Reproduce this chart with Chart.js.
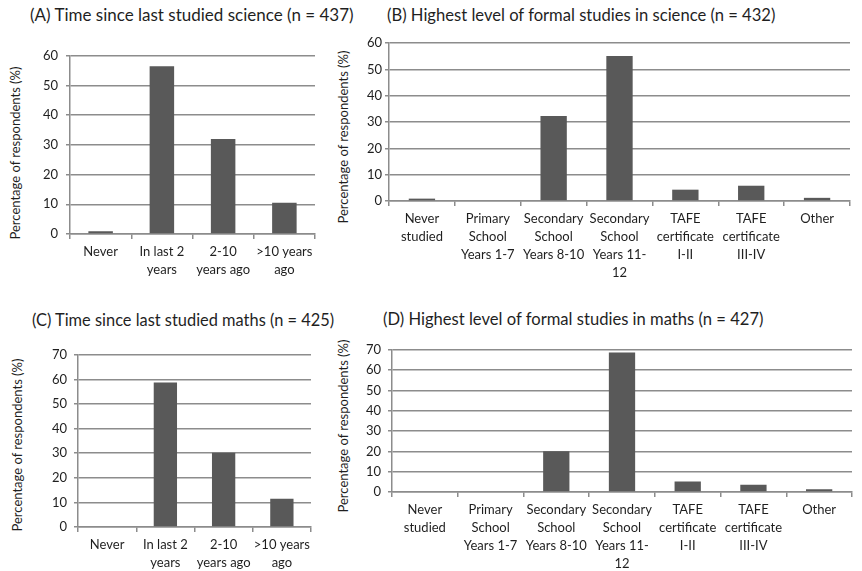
<!DOCTYPE html>
<html>
<head>
<meta charset="utf-8">
<script src="https://cdn.jsdelivr.net/npm/chart.js@4"></script>
<style>
  body { margin: 0; background: #ffffff; }
  #page { position: relative; width: 862px; height: 571px; overflow: hidden; font-family: Lato, "Open Sans", sans-serif; color: #1f1f1f; }
  .panel { position: absolute; }
  .title { position: absolute; font-size: 17px; white-space: nowrap; line-height: 20px; }
  .ytitle { position: absolute; font-size: 13px; white-space: nowrap; transform: translate(-50%, -50%) rotate(-90deg); }
</style>
</head>
<body>
<div id="page">
  <div class="title" style="left:30px;top:5px;">(A) Time since last studied science (n = 437)</div>
  <div class="title" style="left:387px;top:5px;font-size:16.6px;">(B) Highest level of formal studies in science (n = 432)</div>
  <div class="title" style="left:32px;top:310px;font-size:16.4px;">(C) Time since last studied maths (n = 425)</div>
  <div class="title" style="left:383px;top:309px;font-size:16.6px;">(D) Highest level of formal studies in maths (n = 427)</div>

  <div class="ytitle" style="left:15px;top:153px;">Percentage of respondents (%)</div>
  <div class="ytitle" style="left:343px;top:137px;">Percentage of respondents (%)</div>
  <div class="ytitle" style="left:17px;top:445px;">Percentage of respondents (%)</div>
  <div class="ytitle" style="left:343px;top:426px;">Percentage of respondents (%)</div>

  <div class="panel" style="left:0px;top:40px;width:325px;height:250px;"><canvas id="chartA"></canvas></div>
  <div class="panel" style="left:330px;top:30px;width:532px;height:260px;"><canvas id="chartB"></canvas></div>
  <div class="panel" style="left:0px;top:340px;width:325px;height:231px;"><canvas id="chartC"></canvas></div>
  <div class="panel" style="left:330px;top:335px;width:532px;height:236px;"><canvas id="chartD"></canvas></div>
</div>

<script>
const timeLabels = ["Never", ["In last 2", "years"], ["2-10", "years ago"], [">10 years", "ago"]];
const levelLabels = [
  ["Never", "studied"],
  ["Primary", "School", "Years 1-7"],
  ["Secondary", "School", "Years 8-10"],
  ["Secondary", "School", "Years 11-", "12"],
  ["TAFE", "certificate", "I-II"],
  ["TAFE", "certificate", "III-IV"],
  "Other"
];

const scienceTime = [0.9, 56.5, 32, 10.5];
const scienceLevel = [0.9, 0, 32.3, 55.1, 4.3, 5.8, 1.2];
const mathsTime = [0, 58.7, 30.2, 11.5];
const mathsLevel = [0, 0, 20, 68.7, 5.2, 3.6, 1.3];

const BAR_COLOR = "#595959";
const GRID_COLOR = "#8c8c8c";
const TEXT_COLOR = "#1f1f1f";
const FONT = "Lato, 'Open Sans', sans-serif";

Chart.defaults.font.family = FONT;
Chart.defaults.color = TEXT_COLOR;

function makeChart(id, labels, values, { yMax, yWidth, xHeight, padTop, padRight, labelGap }) {
  return new Chart(document.getElementById(id), {
    type: "bar",
    data: {
      labels: labels,
      datasets: [{
        data: values,
        backgroundColor: BAR_COLOR,
        barPercentage: 0.5,
        categoryPercentage: 0.8
      }]
    },
    options: {
      responsive: true,
      maintainAspectRatio: false,
      animation: false,
      layout: { padding: { top: padTop, right: padRight, left: 0, bottom: 0 } },
      plugins: {
        legend: { display: false },
        tooltip: { enabled: false }
      },
      scales: {
        x: {
          grid: {
            drawOnChartArea: false,
            drawTicks: true,
            tickLength: 5,
            color: GRID_COLOR,
            lineWidth: 1.5
          },
          border: { display: true, color: GRID_COLOR, width: 1.5 },
          ticks: {
            color: TEXT_COLOR,
            font: { size: 13, lineHeight: 1.38 },
            padding: 4,
            maxRotation: 0,
            autoSkip: false
          },
          afterFit: (scale) => { scale.height = xHeight; }
        },
        y: {
          min: 0,
          max: yMax,
          grid: {
            color: GRID_COLOR,
            lineWidth: 1.5,
            drawTicks: true,
            tickLength: 4
          },
          border: { display: true, color: GRID_COLOR, width: 1.5 },
          ticks: {
            stepSize: 10,
            color: TEXT_COLOR,
            font: { size: 13 },
            padding: labelGap
          },
          afterFit: (scale) => { scale.width = yWidth; }
        }
      }
    }
  });
}

// chart areas sized to sit where the plot boxes are in the original figure
makeChart("chartA", timeLabels, scienceTime, { yMax: 60, yWidth: 70, xHeight: 56, padTop: 10, padRight: 10, labelGap: 8 });
makeChart("chartB", levelLabels, scienceLevel, { yMax: 60, yWidth: 59, xHeight: 89, padTop: 13, padRight: 12, labelGap: 3 });
makeChart("chartC", timeLabels, mathsTime, { yMax: 70, yWidth: 78, xHeight: 44, padTop: 11, padRight: 14, labelGap: 7 });
makeChart("chartD", levelLabels, mathsLevel, { yMax: 70, yWidth: 62, xHeight: 79, padTop: 12, padRight: 10, labelGap: 7 });
</script>
</body>
</html>
